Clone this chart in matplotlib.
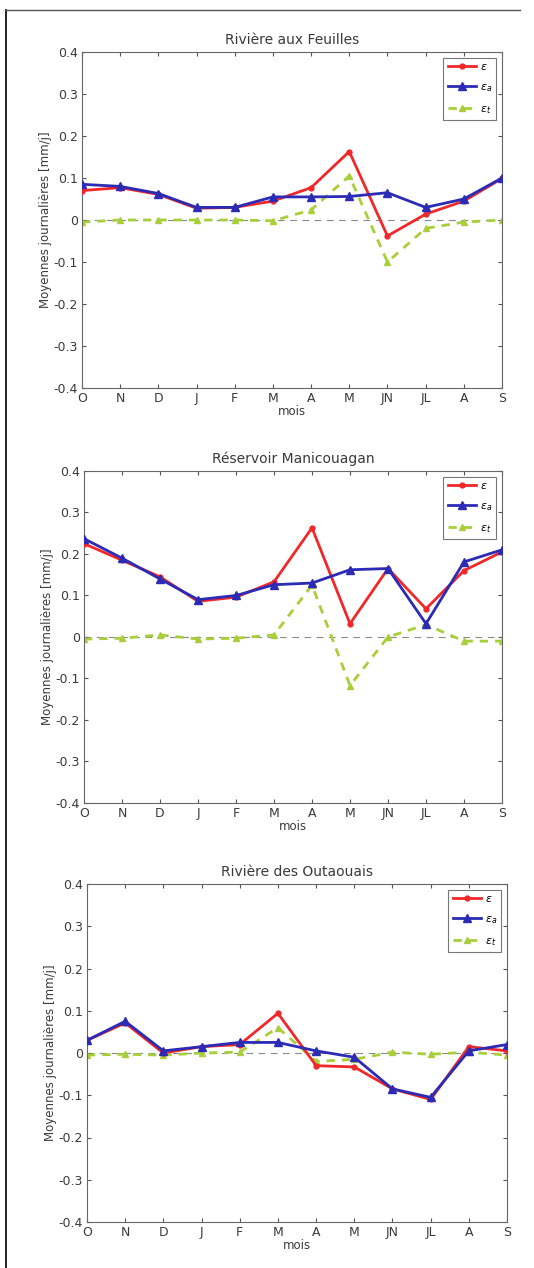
import matplotlib
matplotlib.use("Agg")
import matplotlib.pyplot as plt

months = ["O", "N", "D", "J", "F", "M", "A", "M", "JN", "JL", "A", "S"]
titles = ["Rivière aux Feuilles", "Réservoir Manicouagan", "Rivière des Outaouais"]

e_total = [
    [0.07, 0.077, 0.061, 0.028, 0.03, 0.045, 0.077, 0.163, -0.038, 0.014, 0.045, 0.099],
    [0.225, 0.185, 0.145, 0.086, 0.096, 0.133, 0.263, 0.032, 0.165, 0.068, 0.16, 0.205],
    [0.03, 0.071, 0.0, 0.015, 0.02, 0.094, -0.03, -0.033, -0.085, -0.11, 0.015, 0.005],
]
e_a = [
    [0.085, 0.08, 0.063, 0.03, 0.03, 0.055, 0.055, 0.056, 0.065, 0.03, 0.05, 0.1],
    [0.237, 0.19, 0.14, 0.09, 0.1, 0.126, 0.13, 0.162, 0.165, 0.032, 0.181, 0.21],
    [0.03, 0.075, 0.005, 0.015, 0.025, 0.025, 0.005, -0.01, -0.085, -0.105, 0.005, 0.02],
]
e_t = [
    [-0.005, 0.0, 0.0, 0.0, 0.0, -0.002, 0.024, 0.105, -0.1, -0.02, -0.005, 0.0],
    [-0.005, -0.003, 0.005, -0.005, -0.003, 0.005, 0.125, -0.117, 0.0, 0.03, -0.01, -0.01],
    [-0.005, -0.003, -0.005, 0.0, 0.002, 0.06, -0.02, -0.015, 0.002, -0.003, 0.002, -0.005],
]
yticks = [-0.4, -0.3, -0.2, -0.1, 0, 0.1, 0.2, 0.3, 0.4]
ytick_labels = ["-0.4", "-0.3", "-0.2", "-0.1", "0", "0.1", "0.2", "0.3", "0.4"]

W, H = 534, 1268
fig = plt.figure(figsize=(W / 100, H / 100), dpi=100)

# axes boxes in pixel coords: left, top, right, bottom
boxes = [(82, 52, 502, 388), (84, 471, 502, 803), (87, 884, 507, 1222)]

red = "#f0282a"
blue = "#2b2bb5"
green = "#a8cf3a"
txt = "#3a3a3a"

x = list(range(len(months)))
for i, (l, t, r, b) in enumerate(boxes):
    ax = fig.add_axes([l / W, 1 - b / H, (r - l) / W, (b - t) / H])
    ax.axhline(0, color="#8a8a8a", lw=0.8, ls=(0, (6, 5)), zorder=1)
    ax.plot(x, e_total[i], color=red, lw=2.0, marker=".", ms=7, label=r"$\epsilon$", zorder=3)
    ax.plot(x, e_a[i], color=blue, lw=2.0, marker="^", ms=6, label=r"$\epsilon_a$", zorder=4)
    ax.plot(x, e_t[i], color=green, lw=2.0, ls=(0, (3, 2.5)), marker="^", ms=4,
            label=r"$\epsilon_t$", zorder=2)
    ax.set_xlim(0, len(months) - 1)
    ax.set_ylim(-0.4, 0.4)
    ax.set_xticks(x)
    ax.set_xticklabels(months, fontsize=9, color=txt)
    ax.set_yticks(yticks)
    ax.set_yticklabels(ytick_labels, fontsize=9, color=txt)
    ax.tick_params(direction="in", length=3, top=True, right=True, color="#555555", pad=3)
    for s in ax.spines.values():
        s.set_color("#666666")
        s.set_linewidth(0.8)
    ax.set_title(titles[i], fontsize=10, color=txt, pad=6)
    ax.set_xlabel("mois", fontsize=8.5, color=txt, labelpad=0)
    ax.set_ylabel("Moyennes journalières [mm/j]", fontsize=8.5, color=txt, labelpad=1)
    leg = ax.legend(loc="upper right", fontsize=8, handlelength=2.6, borderpad=0.4,
                    labelspacing=0.9, fancybox=False, framealpha=1, edgecolor="#777777",
                    handletextpad=0.3)
    leg.get_frame().set_linewidth(0.8)

# outer frame lines (left and top)
fig.add_artist(plt.Line2D([6 / W, 6 / W], [0, 1 - 10 / H], color="black", lw=1.2))
fig.add_artist(plt.Line2D([6 / W, 520 / W], [1 - 10 / H, 1 - 10 / H], color="#555555", lw=1.0))

fig.savefig("out.png", dpi=100, facecolor="white")
